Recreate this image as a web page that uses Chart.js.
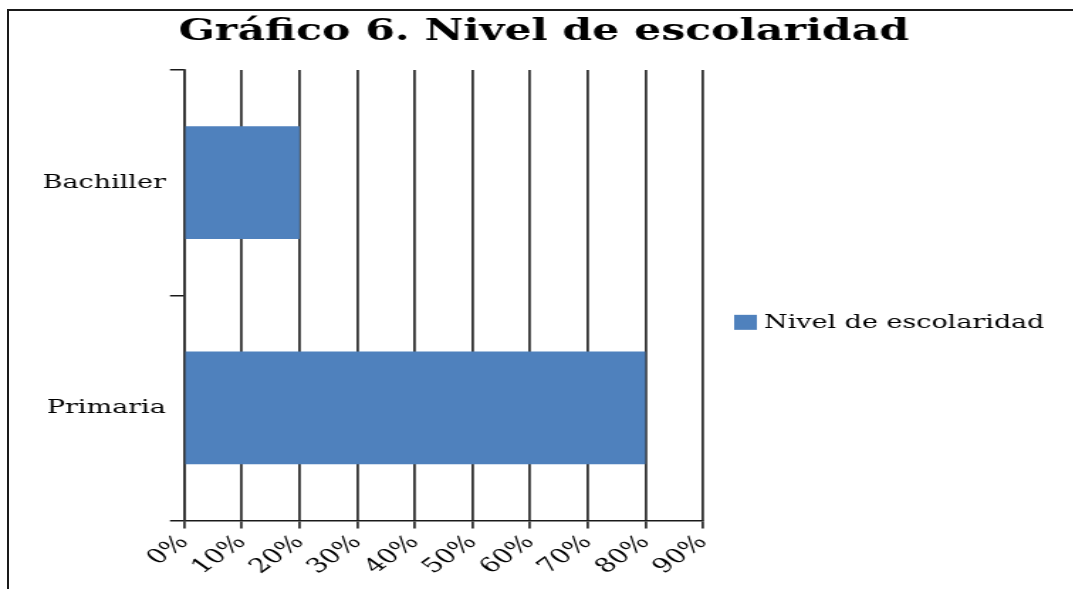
<!DOCTYPE html>
<html>
<head>
<meta charset="utf-8">
<script src="https://cdn.jsdelivr.net/npm/chart.js@4/dist/chart.umd.min.js"></script>
<style>
  html, body { margin: 0; padding: 0; background: #fff; overflow: hidden; }
  #wrap { position: absolute; left: 0; top: 0; width: 756px; height: 589px;
          transform: scaleX(1.42); transform-origin: 0 0; }
  #frame { position: absolute; left: 7px; top: 9px; width: 1100px; height: 600px;
           border-top: 2px solid #1a1a1a; border-left: 2px solid #1a1a1a; }
</style>
</head>
<body>
<div id="frame"></div>
<div id="wrap"><canvas id="escChart" width="756" height="589"></canvas></div>
<script>
// Gráfico 6 - nivel de escolaridad
const categories = ["Bachiller", "Primaria"];
const porcentajes = [20, 80];
const serieLabel = "Nivel de escolaridad";
const xTicks = [0, 10, 20, 30, 40, 50, 60, 70, 80, 90];

const serif = "'DejaVu Serif', serif";

// legend drawn by hand: the built-in one gets squeezed on the right side
const leyendaDerecha = {
  id: "leyendaDerecha",
  afterDraw(chart) {
    const { ctx, chartArea } = chart;
    const ds = chart.data.datasets[0];
    const x = chartArea.right + 22;
    const y = chartArea.top + chartArea.height * 0.56;
    ctx.save();
    ctx.fillStyle = ds.backgroundColor;
    ctx.fillRect(x, y - 7.5, 16, 15);
    ctx.fillStyle = "#000";
    ctx.font = "19px " + serif;
    ctx.textBaseline = "middle";
    ctx.textAlign = "left";
    ctx.fillText(ds.label, x + 21, y + 1);
    ctx.restore();
  },
};

const dataEsc = {
  labels: categories,
  datasets: [
    {
      label: serieLabel,
      data: porcentajes,
      backgroundColor: "#4F81BD",
      borderWidth: 0,
      categoryPercentage: 1,
      barPercentage: 0.5,
    },
  ],
};

const configEsc = {
  type: "bar",
  data: dataEsc,
  options: {
    indexAxis: "y",
    responsive: false,
    animation: false,
    layout: { padding: { left: 27, right: 17, top: 0, bottom: 8 } },
    plugins: {
      title: {
        display: true,
        text: "Gráfico 6. Nivel de escolaridad",
        color: "#000",
        font: { family: serif, size: 30, weight: "bold" },
        padding: { top: 14, bottom: 20 },
      },
      legend: { display: false },
      tooltip: { enabled: false },
    },
    scales: {
      x: {
        min: 0,
        max: 90,
        afterBuildTicks: (axis) => {
          axis.ticks = xTicks.map((v) => ({ value: v }));
        },
        ticks: {
          color: "#000",
          font: { family: serif, size: 20 },
          maxRotation: 45,
          minRotation: 45,
          padding: 2,
          callback: (v) => v + "%",
        },
        grid: { color: "#333", lineWidth: 1.8, tickLength: 8 },
        border: { display: true, color: "#1a1a1a", width: 1.5 },
      },
      y: {
        offset: true,
        ticks: {
          color: "#000",
          font: { family: serif, size: 19 },
          padding: 3,
        },
        grid: {
          offset: true,
          drawOnChartArea: false,
          drawTicks: true,
          tickLength: 10,
          color: "#1a1a1a",
          lineWidth: 1.5,
        },
        border: { display: true, color: "#333", width: 1.8 },
      },
      // empty axis on the right, only keeps room for the legend
      hueco: {
        axis: "y",
        type: "category",
        position: "right",
        ticks: { display: false },
        grid: { display: false },
        border: { display: false },
        afterFit: (axis) => {
          axis.width = 244;
        },
      },
    },
  },
  plugins: [leyendaDerecha],
};

const escChart = new Chart(document.getElementById("escChart"), configEsc);
</script>
</body>
</html>
